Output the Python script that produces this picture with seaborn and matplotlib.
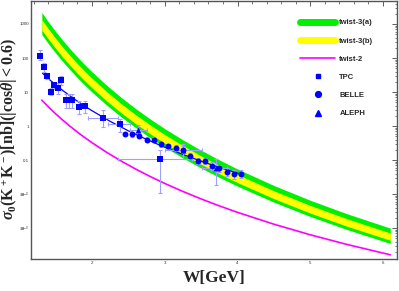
import numpy as np
import pandas as pd
import matplotlib
matplotlib.use("Agg")
import matplotlib.pyplot as plt
import seaborn as sns
from matplotlib.lines import Line2D
from matplotlib.ticker import FixedLocator, LogLocator, MultipleLocator, NullFormatter, FixedFormatter

# ---------------- data (curve values, given as log10 of sigma in nb) ----------------
W_theory = [1.31, 1.4, 1.5, 1.6, 1.7, 1.8, 1.9, 2.0, 2.2, 2.4, 2.6, 2.8, 3.0, 3.25, 3.5, 3.75, 4.0, 4.5, 5.0, 5.5, 6.1]
twist3a_hi_log10 = [3.337, 3.064, 2.779, 2.513, 2.264, 2.027, 1.804, 1.594, 1.201, 0.842, 0.512, 0.206,
                    -0.078, -0.408, -0.714, -0.997, -1.264, -1.749, -2.184, -2.576, -3.003]
twist3a_lo_log10 = [2.687, 2.423, 2.147, 1.889, 1.648, 1.418, 1.202, 0.999, 0.618, 0.271, -0.049, -0.345,
                    -0.620, -0.940, -1.236, -1.510, -1.769, -2.239, -2.660, -3.040, -3.453]
twist3b_hi_log10 = [3.129, 2.859, 2.577, 2.313, 2.067, 1.832, 1.611, 1.404, 1.014, 0.659, 0.332, 0.030,
                    -0.251, -0.578, -0.881, -1.161, -1.426, -1.906, -2.336, -2.724, -3.147]
twist3b_lo_log10 = [2.823, 2.558, 2.280, 2.020, 1.777, 1.546, 1.328, 1.124, 0.740, 0.391, 0.069, -0.229,
                    -0.506, -0.828, -1.126, -1.402, -1.663, -2.136, -2.560, -2.943, -3.359]
twist2_log10 = [0.760, 0.564, 0.359, 0.169, -0.010, -0.180, -0.339, -0.490, -0.772, -1.029, -1.266, -1.485,
                -1.689, -1.925, -2.144, -2.348, -2.539, -2.887, -3.198, -3.480, -3.786]

W_fit = [1.32, 1.4, 1.5, 1.6, 1.75, 1.9, 2.0, 2.25, 2.5, 2.75, 3.0, 3.25, 3.5, 3.75, 4.08]
fit_log10 = [1.55, 1.394, 1.211, 1.041, 0.803, 0.585, 0.450, 0.137, -0.142, -0.394, -0.625, -0.837,
             -1.033, -1.216, -1.440]

W_tpc = [1.285, 1.335, 1.385, 1.43, 1.48, 1.53, 1.58, 1.64, 1.68, 1.73, 1.82, 1.91, 2.155, 2.385, 2.93]
s_tpc = [117, 54, 29.5, 10, 16, 13, 22, 5.8, 5.8, 6.0, 3.7, 3.9, 1.7, 1.12, 0.105]
s_tpc_lo = [87, 40, 24, 8, 12, 9, 16, 3.3, 3.5, 3.5, 2.2, 2.4, 0.95, 0.65, 0.011]
s_tpc_hi = [172, 70, 34, 13, 20, 18, 30, 9, 8.5, 9, 5.5, 5.5, 2.95, 1.6, 0.2]
W_tpc_lo = [1.285, 1.335, 1.385, 1.43, 1.48, 1.53, 1.58, 1.64, 1.68, 1.73, 1.82, 1.91, 1.95, 2.22, 2.36]
W_tpc_hi = [1.285, 1.335, 1.385, 1.43, 1.48, 1.53, 1.58, 1.64, 1.68, 1.73, 1.82, 1.91, 2.36, 2.52, 3.38]

W_belle = [2.45, 2.55, 2.65, 2.75, 2.85, 2.95, 3.05, 3.15, 3.25, 3.35, 3.45, 3.55, 3.65, 3.75, 3.85, 3.95, 4.05]
s_belle = [0.59, 0.57, 0.52, 0.39, 0.39, 0.29, 0.25, 0.22, 0.20, 0.13, 0.096, 0.096, 0.068, 0.057, 0.046, 0.039, 0.039]
s_belle_lo = [0.50, 0.49, 0.44, 0.33, 0.33, 0.24, 0.21, 0.18, 0.16, 0.105, 0.077, 0.077, 0.052, 0.044, 0.034, 0.028, 0.030]
s_belle_hi = [0.68, 0.66, 0.60, 0.46, 0.46, 0.35, 0.30, 0.27, 0.25, 0.16, 0.118, 0.118, 0.086, 0.072, 0.060, 0.052, 0.050]

W_aleph = [2.63, 3.25, 3.70]
s_aleph = [0.76, 0.20, 0.057]
s_aleph_lo = [0.55, 0.11, 0.018]
s_aleph_hi = [1.05, 0.30, 0.11]
W_aleph_lo = [2.52, 3.0, 3.51]
W_aleph_hi = [2.75, 3.51, 3.85]

legend_labels = ["twist-3(a)", "twist-3(b)", "twist-2", "TPC", "BELLE", "ALEPH"]
x_ticks = [2, 3, 4, 5, 6]
y_ticks = [1e-3, 1e-2, 0.1, 1, 10, 100, 1000]
y_tick_labels = [r"$10^{-3}$", r"$10^{-2}$", "0.1", "1", "10", "100", "1000"]

# ---------------- style ----------------
sns.set_theme(style="white")
plt.rcParams["font.family"] = ["Liberation Sans", "DejaVu Sans"]
plt.rcParams["mathtext.fontset"] = "custom"
plt.rcParams["mathtext.rm"] = "Liberation Serif:bold"
plt.rcParams["mathtext.it"] = "Liberation Serif:italic:bold"
plt.rcParams["mathtext.bf"] = "Liberation Serif:bold"

GREEN = "#00f000"
YELLOW = "#ffff00"
MAGENTA = "#ff00ff"
BLUE = "#0000ff"
ERRC = "#a0a0ff"

fig = plt.figure(figsize=(3.99, 2.91), dpi=100)
ax = fig.add_axes([31 / 399, 32 / 291, 366 / 399, 258 / 291])
ax.set_yscale("log")

theory = pd.DataFrame({
    "W": W_theory,
    "a_hi": np.power(10.0, twist3a_hi_log10), "a_lo": np.power(10.0, twist3a_lo_log10),
    "b_hi": np.power(10.0, twist3b_hi_log10), "b_lo": np.power(10.0, twist3b_lo_log10),
    "t2": np.power(10.0, twist2_log10)})
ax.fill_between(theory["W"], theory["a_lo"], theory["a_hi"], color=GREEN, lw=0, zorder=1)
ax.fill_between(theory["W"], theory["b_lo"], theory["b_hi"], color=YELLOW, lw=0, zorder=2)
sns.lineplot(data=theory, x="W", y="t2", color=MAGENTA, lw=1.2, ax=ax, zorder=3)

fit = pd.DataFrame({"W": W_fit, "s": np.power(10.0, fit_log10)})
sns.lineplot(data=fit, x="W", y="s", color=BLUE, lw=0.9, ax=ax, zorder=4)

def err(ax, W, s, lo, hi, wlo=None, whi=None):
    W = np.array(W); s = np.array(s)
    yerr = [s - np.array(lo), np.array(hi) - s]
    xerr = None
    if wlo is not None:
        xerr = [W - np.array(wlo), np.array(whi) - W]
    ax.errorbar(W, s, yerr=yerr, xerr=xerr, fmt="none", ecolor=ERRC, elinewidth=0.8,
                capsize=1.5, capthick=0.8, zorder=5)

err(ax, W_tpc, s_tpc, s_tpc_lo, s_tpc_hi, W_tpc_lo, W_tpc_hi)
err(ax, W_belle, s_belle, s_belle_lo, s_belle_hi)
err(ax, W_aleph, s_aleph, s_aleph_lo, s_aleph_hi, W_aleph_lo, W_aleph_hi)

sns.scatterplot(x=W_tpc, y=s_tpc, marker="s", color=BLUE, s=15, linewidth=0, ax=ax, zorder=6)
sns.scatterplot(x=W_belle, y=s_belle, marker="o", color=BLUE, s=18, linewidth=0, ax=ax, zorder=6)
sns.scatterplot(x=W_aleph, y=s_aleph, marker="^", color=BLUE, s=18, linewidth=0, ax=ax, zorder=6)

ax.set_xlim(1.1615, 6.192)
ax.set_ylim(10 ** -3.91, 10 ** 3.676)
ax.set_xlabel("")
ax.set_ylabel("")

ax.xaxis.set_major_locator(FixedLocator(x_ticks))
ax.xaxis.set_minor_locator(MultipleLocator(0.2))
ax.yaxis.set_major_locator(FixedLocator(y_ticks))
ax.yaxis.set_major_formatter(FixedFormatter(y_tick_labels))
ax.yaxis.set_minor_locator(LogLocator(base=10, subs=np.arange(2, 10), numticks=30))
ax.yaxis.set_minor_formatter(NullFormatter())
ax.tick_params(which="both", direction="in", top=True, right=True, colors="#444444",
               labelcolor="#333333", labelsize=3.2, pad=1.5)
ax.tick_params(which="major", length=3.5, width=0.6)
ax.tick_params(which="minor", length=1.8, width=0.5)
for sp in ax.spines.values():
    sp.set_color("#555555")
    sp.set_linewidth(1.0)

handles = [
    Line2D([0], [0], color=GREEN, lw=5),
    Line2D([0], [0], color=YELLOW, lw=5),
    Line2D([0], [0], color=MAGENTA, lw=1.2),
    Line2D([0], [0], color=BLUE, marker="s", ls="none", ms=3.5),
    Line2D([0], [0], color=BLUE, marker="o", ls="none", ms=4.2),
    Line2D([0], [0], color=BLUE, marker="^", ls="none", ms=4.2),
]
leg = ax.legend(handles, legend_labels, loc="upper left", bbox_to_anchor=(300 / 399, 1 - 19 / 291),
                bbox_transform=fig.transFigure, frameon=False, fontsize=5.5, handlelength=4.6,
                handletextpad=0.55, labelspacing=1.42, borderpad=0, borderaxespad=0)
for t in leg.get_texts():
    t.set_fontweight("bold")

fig.text(9.5 / 399, 1 - 129 / 291, r"$\sigma_0(\mathrm{K^+K^-})[\mathrm{nb}](|\mathrm{cos}\theta|<0.6)$",
         rotation=90, ha="center", va="center", fontsize=11.5)
fig.text(214 / 399, 1 - 278 / 291, "W[GeV]", ha="center", va="center", fontsize=12.5,
         family=["Liberation Serif", "DejaVu Serif"], fontweight="bold")

fig.savefig("out.png", dpi=100)
